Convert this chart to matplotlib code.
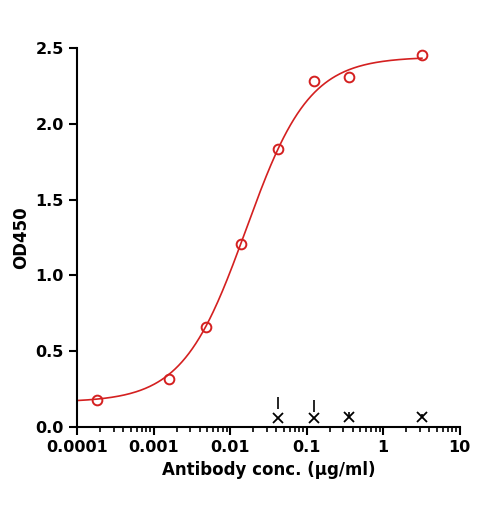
import numpy as np
import matplotlib
matplotlib.use("Agg")
import matplotlib.pyplot as plt

conc = [0.00018, 0.0016, 0.0048, 0.014, 0.042, 0.123, 0.36, 3.2]
od = [0.18, 0.32, 0.66, 1.21, 1.83, 2.28, 2.31, 2.45]
neg_conc = [0.042, 0.123, 0.36, 3.2]
neg_od = [0.06, 0.06, 0.07, 0.07]
err_lo = [0.12, 0.10, 0.07, 0.07]
err_hi = [0.20, 0.18, 0.10, 0.09]
bottom, top, ec50, hill = 0.165, 2.44, 0.0161, 1.05

fig = plt.figure(figsize=(4.85, 5.08), dpi=100)
ax = fig.add_axes([0.159, 0.159, 0.789, 0.747])
xs = np.logspace(-4, np.log10(3.2), 300)
ax.plot(xs, bottom + (top - bottom) / (1 + (ec50 / xs) ** hill), color="#d42020", lw=1.2)
ax.plot(conc, od, 'o', mfc='none', mec="#d42020", ms=7, mew=1.4)
ax.plot(neg_conc, neg_od, 'x', color='black', ms=7, mew=1.3)
ax.vlines(neg_conc, err_lo, err_hi, color='black', lw=1.2)
ax.set_xscale('log')
ax.set_xlim(1e-4, 10)
ax.set_ylim(0, 2.5)
ax.set_xticks([1e-4, 1e-3, 1e-2, 0.1, 1, 10])
ax.set_xticklabels(['0.0001', '0.001', '0.01', '0.1', '1', '10'])
ax.set_yticks(np.arange(0, 2.51, 0.5))
ax.set_yticklabels(['0.0', '0.5', '1.0', '1.5', '2.0', '2.5'])
for s in ['top', 'right']:
    ax.spines[s].set_visible(False)
for s in ['left', 'bottom']:
    ax.spines[s].set_linewidth(1.5)
ax.tick_params(width=1.5, length=6, labelsize=11.5)
ax.tick_params(which='minor', width=1.2, length=3.5)
for t in ax.get_xticklabels() + ax.get_yticklabels():
    t.set_fontweight('bold')
ax.set_xlabel('Antibody conc. (μg/ml)', fontsize=12, fontweight='bold')
ax.set_ylabel('OD450', fontsize=12, fontweight='bold')
fig.savefig('out.png', dpi=100)
